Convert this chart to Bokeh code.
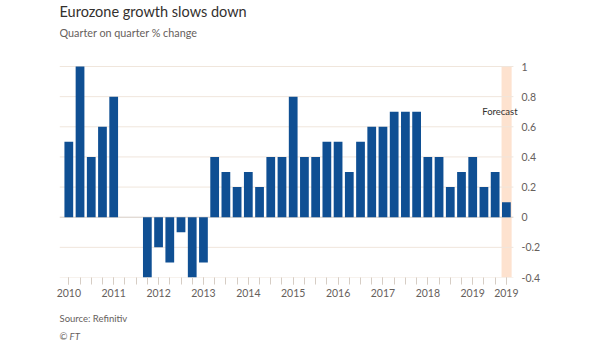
from bokeh.plotting import figure
from bokeh.models import Label, FixedTicker, Range1d, ColumnDataSource, BoxAnnotation, Title
from bokeh.embed import file_html
from bokeh.resources import INLINE

quarters = list(range(40))  # 2010 Q1 .. 2019 Q4
growth = [0.5, 1.0, 0.4, 0.6, 0.8, 0.0, 0.0, -0.4, -0.2, -0.3,
          -0.1, -0.4, -0.3, 0.4, 0.3, 0.2, 0.3, 0.2, 0.4, 0.4,
          0.8, 0.4, 0.4, 0.5, 0.5, 0.3, 0.5, 0.6, 0.6, 0.7,
          0.7, 0.7, 0.4, 0.4, 0.2, 0.3, 0.4, 0.2, 0.3, 0.1]
year_ticks = [0, 4, 8, 12, 16, 20, 24, 28, 32, 36, 39]
year_labels = ["2010", "2011", "2012", "2013", "2014", "2015", "2016", "2017", "2018", "2019", "2019"]
y_ticks = [-0.4, -0.2, 0, 0.2, 0.4, 0.6, 0.8, 1]
y_labels = ["-0.4", "-0.2", "0", "0.2", "0.4", "0.6", "0.8", "1"]
forecast_index = 39
forecast_text = "Forecast"
forecast_y = 0.7
title_text = "Eurozone growth slows down"
subtitle_text = "Quarter on quarter % change"
source_text = "Source: Refinitiv"
credit_text = "© FT"

FONT = "Lato"
TXT = "#66605c"
Y_MIN, Y_MAX = -0.4, 1.0
Y_TOP = 1.438               # frame extends up to hold the headings
X0, X1 = -0.83, 40.17       # frame range
GRID_END = 39.63            # gridlines stop just after last bar

p = figure(width=605, height=341, output_backend="svg", toolbar_location=None,
           x_range=Range1d(X0, X1), y_range=Range1d(Y_MIN, Y_TOP),
           y_axis_location="right", min_border_left=59, min_border_right=86,
           min_border_top=0, min_border_bottom=64)
p.outline_line_color = None
p.background_fill_color = "white"
p.border_fill_color = "white"
p.xgrid.grid_line_color = None
p.ygrid.grid_line_color = None

# gridlines (stop at the end of the bar area)
grid_y = [t for t in y_ticks if t != 0]
p.segment(x0=[X0] * len(grid_y), x1=[GRID_END] * len(grid_y), y0=grid_y, y1=grid_y,
          line_color="#f0e6dc", line_width=1)

p.add_layout(BoxAnnotation(left=forecast_index - 0.43, right=forecast_index + 0.47,
                           bottom=Y_MIN, top=Y_MAX,
                           fill_color="#fde2cf", fill_alpha=1, line_color=None,
                           level="underlay"))

p.segment(x0=[X0], x1=[GRID_END], y0=[0], y1=[0], line_color="#d6cdc4", line_width=1)

src = ColumnDataSource(dict(x=quarters, top=growth))
p.vbar(x="x", top="top", bottom=0, width=0.78, source=src,
       fill_color="#0f4f93", line_color=None)

xa = p.xaxis[0]
xa.ticker = FixedTicker(ticks=year_ticks, minor_ticks=quarters)
xa.major_label_overrides = {t: l for t, l in zip(year_ticks, year_labels)}
xa.axis_line_color = None
xa.major_tick_line_color = "#d6cdc4"
xa.minor_tick_line_color = "#d6cdc4"
xa.major_tick_in = 0
xa.major_tick_out = 7
xa.minor_tick_in = 0
xa.minor_tick_out = 7
xa.major_label_text_font = FONT
xa.major_label_text_font_size = "10.5px"
xa.major_label_text_color = TXT
xa.major_label_standoff = 4

ya = p.yaxis[0]
ya.ticker = FixedTicker(ticks=y_ticks)
ya.major_label_overrides = {t: l for t, l in zip(y_ticks, y_labels)}
ya.axis_line_color = None
ya.major_tick_line_color = None
ya.minor_tick_line_color = None
ya.major_tick_in = 0
ya.major_tick_out = 0
ya.minor_tick_in = 0
ya.minor_tick_out = 0
ya.major_label_text_font = FONT
ya.major_label_text_font_size = "10.5px"
ya.major_label_text_color = TXT
ya.major_label_standoff = 2

p.add_layout(Label(x=forecast_index + 1.0, y=forecast_y, text=forecast_text,
                   text_align="right", text_baseline="middle",
                   text_font=FONT, text_font_size="9.5px", text_color="#33302e"))

# headings inside the (extended) frame, in screen units from frame bottom-left
p.add_layout(Label(x=0, y=266, x_units="screen", y_units="screen",
                   text=title_text, text_font=FONT,
                   text_font_size="14.5px", text_color="#33302e", text_baseline="middle"))
p.add_layout(Label(x=0, y=245, x_units="screen", y_units="screen",
                   text=subtitle_text, text_font=FONT,
                   text_font_size="10.8px", text_color=TXT, text_baseline="middle"))

p.add_layout(Title(text=source_text, align="left", offset=0,
                   text_font=FONT, text_font_size="9.5px", text_font_style="normal",
                   text_color=TXT, standoff=22), "below")
p.add_layout(Title(text=credit_text, align="left", offset=0,
                   text_font=FONT, text_font_size="9.5px", text_font_style="italic",
                   text_color=TXT, standoff=-12), "below")

open("out.html", "w").write(file_html(p, INLINE))
